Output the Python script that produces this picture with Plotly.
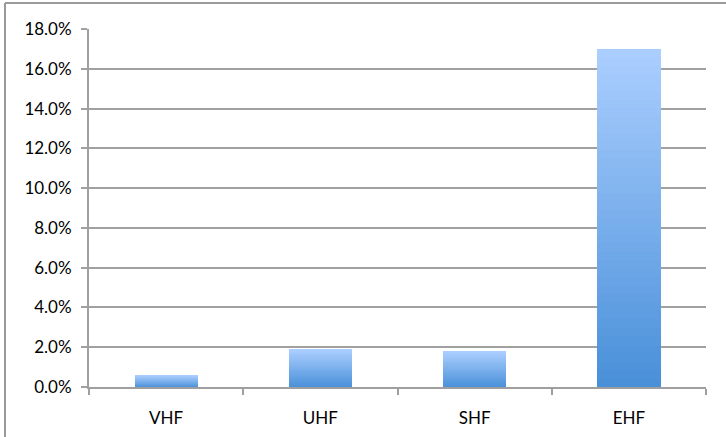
import plotly.graph_objects as go

categories = ["VHF", "UHF", "SHF", "EHF"]
values = [0.006, 0.019, 0.018, 0.170]
y_tickvals = [0, 0.02, 0.04, 0.06, 0.08, 0.10, 0.12, 0.14, 0.16, 0.18]
y_ticktext = ["0.0%", "2.0%", "4.0%", "6.0%", "8.0%", "10.0%", "12.0%", "14.0%", "16.0%", "18.0%"]

# gradient colours: bottom (dark) -> top (light)
c_bottom = (74, 144, 217)
c_top = (170, 206, 255)
N = 40

fig = go.Figure()
for i in range(N):
    t = i / (N - 1)
    col = tuple(round(c_bottom[k] + (c_top[k] - c_bottom[k]) * t) for k in range(3))
    fig.add_trace(go.Bar(
        x=categories,
        y=[v / N for v in values],
        marker=dict(color="rgb(%d,%d,%d)" % col, line=dict(width=0)),
        width=0.41,
        showlegend=False,
        hoverinfo="skip",
    ))

W, H = 726, 437
ml, mr, mt, mb = 89, 20, 29, 50
pw, ph = W - ml - mr, H - mt - mb

fig.update_layout(
    width=W, height=H,
    barmode="stack",
    bargap=0,
    plot_bgcolor="white",
    paper_bgcolor="white",
    margin=dict(l=ml, r=mr, t=mt, b=mb, pad=0),
    font=dict(family="Lato, Open Sans, sans-serif", size=17, color="#000000"),
    xaxis=dict(
        type="category",
        automargin=False,
        showgrid=False,
        showline=True, linecolor="#9f9f9f", linewidth=2,
        ticks="outside", tickson="boundaries", ticklen=6, tickcolor="#9f9f9f", tickwidth=2,
        ticklabelstandoff=15,
        zeroline=False,
    ),
    yaxis=dict(
        automargin=False,
        range=[0, 0.18],
        tickvals=y_tickvals, ticktext=y_ticktext,
        showgrid=True, gridcolor="#a0a0a0", gridwidth=2,
        showline=True, linecolor="#a0a0a0", linewidth=2,
        ticks="outside", ticklen=6, tickcolor="#a0a0a0", tickwidth=2,
        ticklabelstandoff=6,
        zeroline=False,
    ),
    shapes=[
        dict(type="line", xref="paper", yref="paper",
             x0=(5 - ml) / pw, x1=(W + 5 - ml) / pw,
             y0=(H - mb - 3) / ph, y1=(H - mb - 3) / ph,
             line=dict(color="#9a9a9a", width=2)),
        dict(type="line", xref="paper", yref="paper",
             x0=(5 - ml) / pw, x1=(5 - ml) / pw,
             y0=(H - mb - 3) / ph, y1=(-mb - 5) / ph,
             line=dict(color="#9a9a9a", width=2)),
    ],
)

fig.write_html("out.html")
